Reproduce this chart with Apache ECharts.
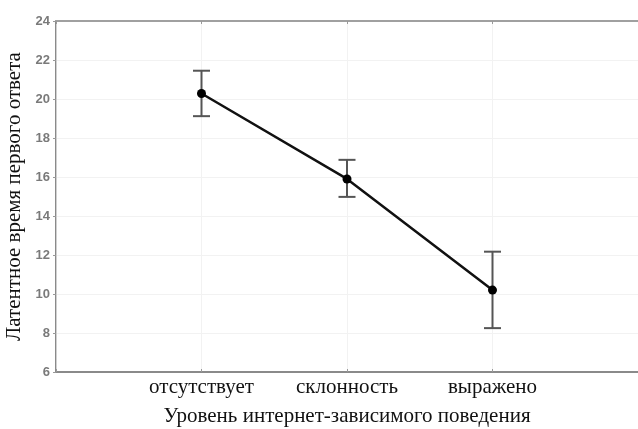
<!DOCTYPE html>
<html>
<head>
<meta charset="utf-8">
<script src="https://cdn.jsdelivr.net/npm/echarts@6/dist/echarts.min.js"></script>
<style>
  html, body { margin: 0; padding: 0; background: #fff; }
  #main { width: 638px; height: 429px; }
</style>
</head>
<body>
<div id="main"></div>
<script>
// уровни и средние значения с доверительными интервалами
var categories = ['отсутствует', 'склонность', 'выражено'];
var means = [20.28, 15.9, 10.2];
var upper = [21.45, 16.88, 12.17];
var lower = [19.12, 14.98, 8.25];
var yTicks = [6, 8, 10, 12, 14, 16, 18, 20, 22, 24];

var chart = echarts.init(document.getElementById('main'));

// позиция категории на оси x: 1, 2, 3
var linePoints = means.map(function (v, i) { return [i + 1, v]; });
var errPoints = means.map(function (v, i) { return [i + 1, lower[i], upper[i]]; });

var option = {
    animation: false,
    backgroundColor: '#fff',
    grid: { left: 56, right: 0, top: 21, bottom: 57, containLabel: false, outerBoundsMode: 'none' },
    xAxis: [{
        type: 'value',
        min: 0, max: 4, interval: 1,
        name: 'Уровень интернет-зависимого поведения',
        nameLocation: 'middle',
        nameGap: 34,
        nameTextStyle: { fontFamily: 'Liberation Serif', fontSize: 21, color: '#111' },
        axisLine: { lineStyle: { color: '#8a8a8a', width: 2 } },
        axisTick: { inside: true, length: 3, lineStyle: { color: '#999' } },
        axisLabel: {
            fontFamily: 'Liberation Serif', fontSize: 21, color: '#111', margin: 5,
            formatter: function (v) { return categories[v - 1] || ''; }
        },
        splitLine: { show: true, lineStyle: { color: '#f2f2f2', width: 1 } }
    }, {
        type: 'value',
        position: 'top',
        min: 0, max: 4, interval: 1,
        axisLine: { show: true, lineStyle: { color: '#a0a0a0', width: 2 } },
        axisTick: { inside: true, length: 3, lineStyle: { color: '#999' } },
        axisLabel: { show: false },
        splitLine: { show: false }
    }],
    yAxis: [{
        type: 'value',
        min: yTicks[0], max: yTicks[yTicks.length - 1], interval: 2,
        name: 'Латентное время первого ответа',
        nameLocation: 'middle',
        nameGap: 29,
        nameTextStyle: { fontFamily: 'Liberation Serif', fontSize: 21, color: '#111' },
        axisLine: { show: true, lineStyle: { color: '#8a8a8a', width: 2 } },
        axisTick: { show: true, length: 3, lineStyle: { color: '#999' } },
        axisLabel: { fontFamily: 'Liberation Sans', fontSize: 13, fontWeight: 'bold', color: '#7a7a7a', margin: 6 },
        splitLine: { show: true, lineStyle: { color: '#f2f2f2', width: 1 } }
    }, {
        type: 'value',
        position: 'right',
        min: yTicks[0], max: yTicks[yTicks.length - 1], interval: 2,
        axisLine: { show: true, lineStyle: { color: '#d0d0d0', width: 1 } },
        axisTick: { inside: true, length: 3, lineStyle: { color: '#999' } },
        axisLabel: { show: false },
        splitLine: { show: false }
    }],
    series: [{
        type: 'custom',
        data: errPoints,
        z: 2,
        renderItem: function (params, api) {
            var x = api.value(0);
            var lo = api.coord([x, api.value(1)]);
            var hi = api.coord([x, api.value(2)]);
            var half = 8.5;
            var st = { stroke: '#555', lineWidth: 2 };
            return {
                type: 'group',
                children: [
                    { type: 'line', shape: { x1: lo[0], y1: lo[1], x2: hi[0], y2: hi[1] }, style: st },
                    { type: 'line', shape: { x1: hi[0] - half, y1: hi[1], x2: hi[0] + half, y2: hi[1] }, style: st },
                    { type: 'line', shape: { x1: lo[0] - half, y1: lo[1], x2: lo[0] + half, y2: lo[1] }, style: st }
                ]
            };
        }
    }, {
        type: 'line',
        data: linePoints,
        z: 3,
        symbol: 'circle',
        symbolSize: 9,
        itemStyle: { color: '#000' },
        lineStyle: { color: '#111', width: 2.5 }
    }]
};
chart.setOption(option);
</script>
</body>
</html>
